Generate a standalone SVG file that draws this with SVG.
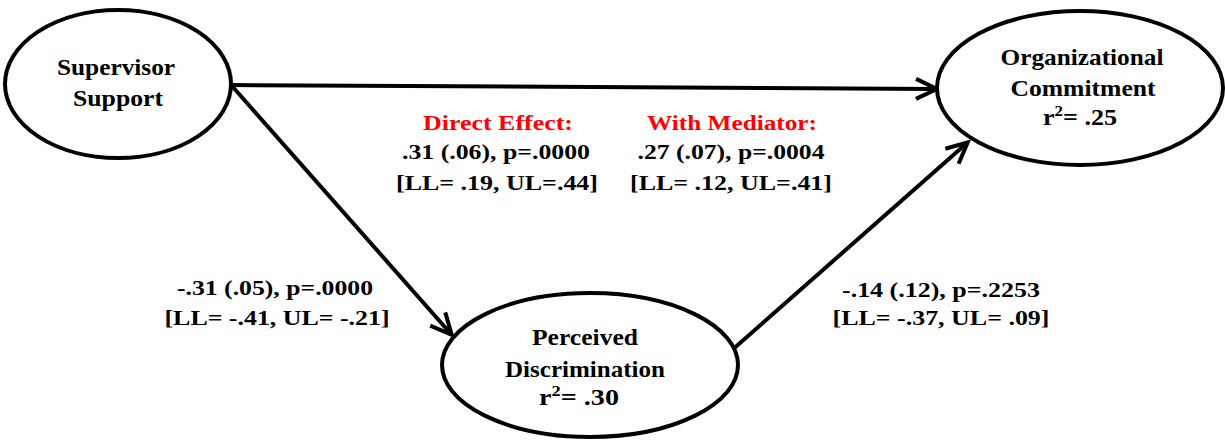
<svg xmlns="http://www.w3.org/2000/svg" width="1225" height="441" viewBox="0 0 1225 441">
<style>
.node ellipse{fill:#fff;stroke:#000;stroke-width:4}
.nt{font-family:"Liberation Serif","Times New Roman",serif;font-weight:bold;font-size:23px;fill:#000;text-anchor:middle}
.lt{font-family:"Liberation Serif","Times New Roman",serif;font-weight:bold;font-size:21px;fill:#000;text-anchor:middle}
.red{fill:#ff0000}
.edge{stroke:#000;stroke-width:4;fill:none;marker-end:url(#arr)}
</style>
<defs>
<marker id="arr" markerUnits="userSpaceOnUse" markerWidth="40" markerHeight="40" viewBox="-30 -20 40 40" refX="-1" refY="0" orient="auto">
<path d="M -21 -10 L 0 0 L -21 10" fill="none" stroke="#000" stroke-width="4" stroke-linejoin="miter"/>
</marker>
</defs>
<rect width="1225" height="441" fill="#fff"/>
<g id="connectors">
<line class="edge" x1="231" y1="85" x2="936" y2="89"/>
<line class="edge" x1="232" y1="86" x2="451" y2="334"/>
<line class="edge" x1="731" y1="351" x2="967" y2="143"/>
</g>
<g id="supervisor-support" class="node">
<ellipse cx="118" cy="84" rx="113" ry="74"/>
<text class="nt" x="116" y="75" textLength="118" lengthAdjust="spacingAndGlyphs">Supervisor</text>
<text class="nt" x="118" y="106" textLength="90" lengthAdjust="spacingAndGlyphs">Support</text>
</g>
<g id="organizational-commitment" class="node">
<ellipse cx="1080" cy="88" rx="143" ry="77"/>
<text class="nt" x="1082" y="65" textLength="163" lengthAdjust="spacingAndGlyphs">Organizational</text>
<text class="nt" x="1083" y="96" textLength="145" lengthAdjust="spacingAndGlyphs">Commitment</text>
<text class="nt" x="1080" y="125" textLength="74" lengthAdjust="spacingAndGlyphs">r<tspan font-size="15" dy="-9">2</tspan><tspan dy="9">= .25</tspan></text>
</g>
<g id="perceived-discrimination" class="node">
<ellipse cx="590" cy="365" rx="148" ry="72"/>
<text class="nt" x="585" y="345" textLength="106" lengthAdjust="spacingAndGlyphs">Perceived</text>
<text class="nt" x="585" y="377" textLength="160" lengthAdjust="spacingAndGlyphs">Discrimination</text>
<text class="nt" x="579" y="405" textLength="80" lengthAdjust="spacingAndGlyphs">r<tspan font-size="15" dy="-9">2</tspan><tspan dy="9">= .30</tspan></text>
</g>
<g id="labels">
<text class="lt red" x="498" y="130" textLength="150" lengthAdjust="spacingAndGlyphs">Direct Effect:</text>
<text class="lt" x="496" y="159" textLength="188" lengthAdjust="spacingAndGlyphs">.31 (.06), p=.0000</text>
<text class="lt" x="497" y="190" textLength="202" lengthAdjust="spacingAndGlyphs">[LL= .19, UL=.44]</text>
<text class="lt red" x="732" y="130" textLength="170" lengthAdjust="spacingAndGlyphs">With Mediator:</text>
<text class="lt" x="731" y="159" textLength="187" lengthAdjust="spacingAndGlyphs">.27 (.07), p=.0004</text>
<text class="lt" x="731" y="190" textLength="202" lengthAdjust="spacingAndGlyphs">[LL= .12, UL=.41]</text>
<text class="lt" x="275" y="295" textLength="196" lengthAdjust="spacingAndGlyphs">-.31 (.05), p=.0000</text>
<text class="lt" x="277" y="325" textLength="225" lengthAdjust="spacingAndGlyphs">[LL= -.41, UL= -.21]</text>
<text class="lt" x="941" y="297" textLength="198" lengthAdjust="spacingAndGlyphs">-.14 (.12), p=.2253</text>
<text class="lt" x="941" y="325" textLength="217" lengthAdjust="spacingAndGlyphs">[LL= -.37, UL= .09]</text>
</g>
</svg>
